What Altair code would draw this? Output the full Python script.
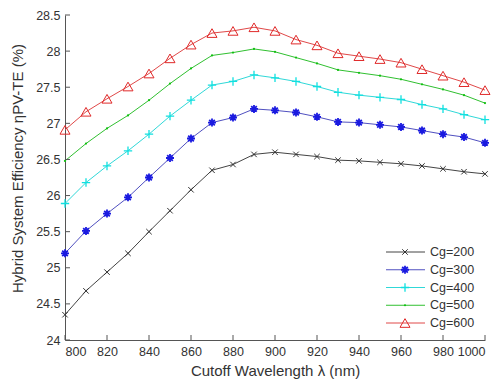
import altair as alt
import pandas as pd

wavelength = list(range(800, 1001, 10))
series_labels = ["Cg=200", "Cg=300", "Cg=400", "Cg=500", "Cg=600"]
cg200 = [24.35, 24.68, 24.94, 25.20, 25.50, 25.79, 26.08, 26.35, 26.43, 26.57, 26.60,
         26.57, 26.54, 26.49, 26.48, 26.46, 26.44, 26.41, 26.37, 26.33, 26.30]
cg300 = [25.20, 25.51, 25.75, 25.975, 26.25, 26.52, 26.79, 27.01, 27.08, 27.20, 27.18,
         27.15, 27.09, 27.02, 27.01, 26.98, 26.95, 26.90, 26.85, 26.81, 26.73]
cg400 = [25.89, 26.18, 26.41, 26.62, 26.85, 27.10, 27.32, 27.53, 27.58, 27.67, 27.63,
         27.58, 27.51, 27.43, 27.39, 27.36, 27.33, 27.26, 27.20, 27.12, 27.05]
cg500 = [26.48, 26.72, 26.93, 27.11, 27.32, 27.55, 27.76, 27.94, 27.98, 28.03, 27.99,
         27.91, 27.83, 27.74, 27.70, 27.66, 27.61, 27.54, 27.47, 27.39, 27.28]
cg600 = [26.91, 27.16, 27.34, 27.51, 27.69, 27.90, 28.09, 28.25, 28.28, 28.33, 28.28,
         28.16, 28.08, 27.97, 27.93, 27.89, 27.84, 27.75, 27.66, 27.57, 27.46]
x_ticks = [800, 820, 840, 860, 880, 900, 920, 940, 960, 980, 1000]
y_ticks = [24, 24.5, 25, 25.5, 26, 26.5, 27, 27.5, 28, 28.5]

line_colors = ["#444444", "#5050c0", "#30d8d8", "#30c030", "#e04848"]
mark_colors = ["#333333", "#1a1ae0", "#10e0e0", "#10c010", "#e02a2a"]
shapes = [
    "M-1,-1L1,1M-1,1L1,-1",
    "M-1,0L1,0M0,-1L0,1M-0.7,-0.7L0.7,0.7M-0.7,0.7L0.7,-0.7",
    "M-1,0L1,0M0,-1L0,1",
    "circle",
    "triangle-up",
]
sizes = [30, 64, 70, 5, 100]
widths = [1, 1.8, 1.3, 3, 1]
filled = [False, False, False, True, False]

rows = []
for lab, vals in zip(series_labels, [cg200, cg300, cg400, cg500, cg600]):
    for w, v in zip(wavelength, vals):
        rows.append({"wl": w, "eff": v, "series": lab})
df = pd.DataFrame(rows)
leg_df = pd.DataFrame({"series": series_labels})
xt_df = pd.DataFrame({"wl": x_ticks})
yt_df = pd.DataFrame({"eff": y_ticks})

FONT = "Liberation Sans"
xs = alt.Scale(domain=[800, 1000], nice=False, zero=False)
ys = alt.Scale(domain=[24, 28.5], nice=False, zero=False)

x_axis = alt.Axis(values=x_ticks, ticks=False, grid=False, format="d", domainColor="#555",
                  labelColor="#333", labelFont=FONT, labelFontSize=12.5, labelPadding=5,
                  titleFont=FONT, titleFontSize=15,
                  titleFontWeight="normal", titleColor="#333", titlePadding=6)
y_axis = alt.Axis(values=y_ticks, ticks=False, grid=False, format="~g", domainColor="#555",
                  labelColor="#333", labelFont=FONT, labelFontSize=12.5, labelPadding=5,
                  titleFont=FONT, titleFontSize=15, titleY=153,
                  titleFontWeight="normal", titleColor="#333", titlePadding=10)
X = alt.X("wl:Q", scale=xs, axis=x_axis, title="Cutoff Wavelength λ (nm)")
Y = alt.Y("eff:Q", scale=ys, axis=y_axis, title="Hybrid System Efficiency ηPV-TE (%)")

layers = []
for i, lab in enumerate(series_labels):
    sub = alt.Chart(df).transform_filter(alt.datum.series == lab)
    layers.append(sub.mark_line(strokeWidth=1, color=line_colors[i]).encode(x=X, y=Y))
    layers.append(sub.mark_point(shape=shapes[i], size=sizes[i], strokeWidth=widths[i],
                                 filled=filled[i], color=mark_colors[i], opacity=1).encode(x=X, y=Y))

layers.append(alt.Chart(xt_df).mark_rule(color="#555").encode(
    x=X, y=alt.value(325), y2=alt.value(320)))
layers.append(alt.Chart(yt_df).mark_rule(color="#555").encode(
    y=Y, x=alt.value(0), x2=alt.value(5)))

for i, lab in enumerate(series_labels):
    ly = 237 + i * 17.75
    leg = alt.Chart(leg_df).transform_filter(alt.datum.series == lab)
    layers.append(leg.mark_rule(strokeWidth=1, color=line_colors[i]).encode(
        y=alt.value(ly), x=alt.value(321), x2=alt.value(360)))
    layers.append(leg.mark_point(shape=shapes[i], size=sizes[i], strokeWidth=widths[i],
                                 filled=filled[i], color=mark_colors[i], opacity=1).encode(
        y=alt.value(ly), x=alt.value(340)))
    layers.append(leg.mark_text(align="left", baseline="middle", font=FONT, fontSize=12.5,
                                color="#333").encode(
        y=alt.value(ly), x=alt.value(365), text="series:N"))

chart = alt.layer(*layers).properties(
    width=420, height=325,
    autosize=alt.AutoSizeParams(type="none"),
    padding={"left": 65, "top": 15, "right": 16, "bottom": 44},
    background="white",
).configure_view(stroke=None)

chart.save("out.html", embed_options={"renderer": "svg", "actions": False})
